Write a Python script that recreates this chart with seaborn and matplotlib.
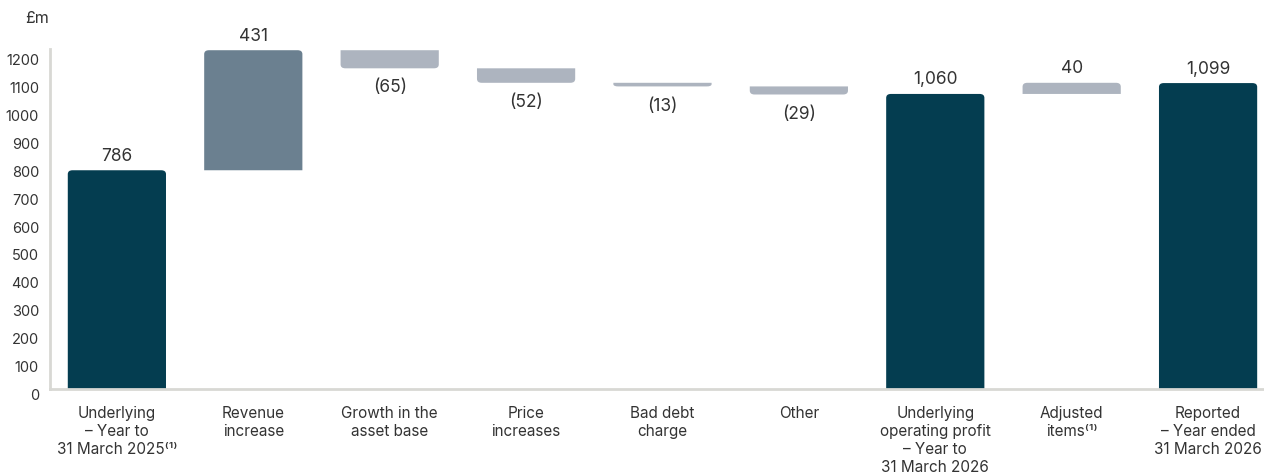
import matplotlib
matplotlib.use("Agg")
import matplotlib.pyplot as plt
import matplotlib.transforms as mtransforms
import seaborn as sns
from matplotlib.path import Path
from matplotlib.patches import PathPatch

categories = [
    "Underlying\n– Year to\n31 March 2025⁽¹⁾",
    "Revenue\nincrease",
    "Growth in the\nasset base",
    "Price\nincreases",
    "Bad debt\ncharge",
    "Other",
    "Underlying\noperating profit\n– Year to\n31 March 2026",
    "Adjusted\nitems⁽¹⁾",
    "Reported\n– Year ended\n31 March 2026",
]
values = [786, 431, -65, -52, -13, -29, 1060, 40, 1099]
is_total = [True, False, False, False, False, False, True, False, True]
value_labels = ["786", "431", "(65)", "(52)", "(13)", "(29)", "1,060", "40", "1,099"]
bar_colors = ["#043d50", "#6b8090", "#adb4bf", "#adb4bf", "#adb4bf",
              "#adb4bf", "#043d50", "#adb4bf", "#043d50"]
yticks = list(range(0, 1300, 100))

# waterfall bottoms / tops
bottoms, tops = [], []
running = 0
for v, tot in zip(values, is_total):
    if tot:
        bottoms.append(0)
        tops.append(v)
        running = v
    else:
        new = running + v
        bottoms.append(min(running, new))
        tops.append(max(running, new))
        running = new
spans = [t - b for t, b in zip(tops, bottoms)]

sns.set_style("white")
plt.rcParams["font.family"] = ["Inter", "DejaVu Sans"]
text_color = "#333333"

fig = plt.figure(figsize=(12.64, 4.74), dpi=100)
ax = fig.add_axes([0.0396, 0.179, 0.9604, 0.718])

sns.barplot(x=categories, y=spans, hue=categories, palette=bar_colors,
            legend=False, width=0.72, saturation=1, ax=ax)

ax.set_xlim(-0.49, 8.41)
ax.set_ylim(0, 1222)

# move bars to their waterfall bottoms and round the leading corners
rx, ry = 0.035, 14
for patch, b, v, tot in zip(list(ax.patches), bottoms, values, is_total):
    x0 = patch.get_x()
    x1 = x0 + patch.get_width()
    h = patch.get_height()
    y0, y1 = b, b + h
    r = min(ry, h * 0.6)
    up = tot or v > 0
    if up:
        verts = [(x0, y0), (x0, y1 - r), (x0, y1), (x0 + rx, y1),
                 (x1 - rx, y1), (x1, y1), (x1, y1 - r), (x1, y0), (x0, y0)]
    else:
        verts = [(x0, y1), (x0, y0 + r), (x0, y0), (x0 + rx, y0),
                 (x1 - rx, y0), (x1, y0), (x1, y0 + r), (x1, y1), (x0, y1)]
    codes = [Path.MOVETO, Path.LINETO, Path.CURVE3, Path.CURVE3,
             Path.LINETO, Path.CURVE3, Path.CURVE3, Path.LINETO, Path.CLOSEPOLY]
    color = patch.get_facecolor()
    patch.remove()
    ax.add_patch(PathPatch(Path(verts, codes), facecolor=color,
                           edgecolor="none", lw=0))

for i, (lab, v, tot, b, t) in enumerate(zip(value_labels, values, is_total, bottoms, tops)):
    if tot or v > 0:
        ax.annotate(lab, (i, t), xytext=(0, 4), textcoords="offset points",
                    ha="center", va="bottom", fontsize=12.5, color=text_color)
    else:
        ax.annotate(lab, (i, b), xytext=(0, -8), textcoords="offset points",
                    ha="center", va="top", fontsize=12.5, color=text_color)

ax.set_yticks(yticks)
ax.set_yticklabels([str(y) for y in yticks])
ax.tick_params(axis="y", length=0, pad=8, labelsize=10.5, labelcolor=text_color)
ax.tick_params(axis="x", length=0, pad=12, labelsize=11, labelcolor=text_color)
for lbl in ax.get_xticklabels():
    lbl.set_linespacing(1.25)

# the source draws its y labels a little below the gridline positions
shift = mtransforms.ScaledTranslation(0, -5 / 100, fig.dpi_scale_trans)
for lbl in ax.get_yticklabels():
    lbl.set_transform(lbl.get_transform() + shift)

for side in ["top", "right"]:
    ax.spines[side].set_visible(False)
for side in ["left", "bottom"]:
    ax.spines[side].set_color("#d8d8d4")
    ax.spines[side].set_linewidth(2)

fig.text(0.02, 0.96, "£m", fontsize=11.5, color=text_color, va="center", ha="left")

fig.savefig("out.png", dpi=100)
